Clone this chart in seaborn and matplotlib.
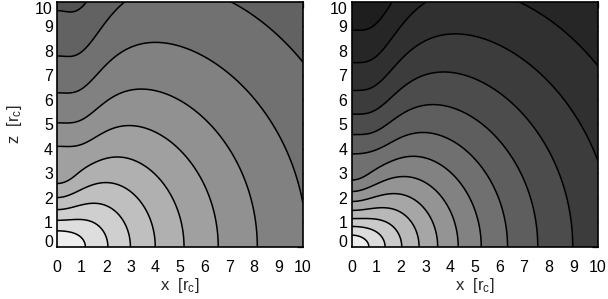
import numpy as np
import matplotlib
matplotlib.use("Agg")
import matplotlib.pyplot as plt
import seaborn as sns

# axis range and ticks, in units of r_c
x_range = [0, 10]
z_range = [0, 10]
ticks = [0, 1, 2, 3, 4, 5, 6, 7, 8, 9, 10]

# model of the two panels:
#   phi = 0.5*ln(1+r^2) - A*R^2/(R^2+R0^2+c*z^2) - E*exp(-R^2/w^2)*ramp(z)
left_model = dict(A=0.70, R0sq=2.5, c=0.007, E=0.21, w=0.9, z1=2.65, z2=4.1)
right_model = dict(A=0.68, R0sq=3.0, c=0.007, E=0.16, w=0.9, z1=2.65, z2=4.1)

# contour levels (equally spaced in log density)
left_levels = [0.18, 0.39, 0.60, 0.81, 1.02, 1.23, 1.43, 1.64, 1.85, 2.06]
right_levels = [0.105, 0.265, 0.425, 0.585, 0.745, 0.905, 1.065, 1.225,
                1.385, 1.545, 1.705, 1.865, 2.025, 2.185]

# fill shade of each band, innermost first (0-255)
left_grays = [238, 222, 207, 191, 176, 160, 145, 129, 113, 98, 82]
right_grays = [238, 220, 202, 184, 166, 148, 130, 112, 94, 76, 60, 48,
               38, 30, 24]


def potential(R, z, A, R0sq, c, E, w, z1, z2):
    t = np.clip((z - z1) / (z2 - z1), 0, 1)
    ramp = 3 * t**2 - 2 * t**3
    return (0.5 * np.log(1 + R**2 + z**2)
            - A * R**2 / (R**2 + R0sq + c * z**2)
            - E * np.exp(-R**2 / w**2) * ramp)


sns.set_theme(style="white")
plt.rcParams['font.family'] = ['Liberation Sans', 'DejaVu Sans']
plt.rcParams['mathtext.fontset'] = 'custom'
plt.rcParams['mathtext.rm'] = 'Liberation Sans'
plt.rcParams['mathtext.it'] = 'Liberation Sans'

fig = plt.figure(figsize=(6.08, 2.99), dpi=100)
ax_l = fig.add_axes([57 / 608, 52 / 299, 246 / 608, 245.5 / 299])
ax_r = fig.add_axes([351.5 / 608, 52 / 299, 246.5 / 608, 245.5 / 299])

xs = np.linspace(x_range[0], x_range[1], 601)
zs = np.linspace(z_range[0], z_range[1], 601)
X, Z = np.meshgrid(xs, zs)

panels = [(ax_l, left_model, left_levels, left_grays),
          (ax_r, right_model, right_levels, right_grays)]

for ax, model, levels, grays in panels:
    phi = potential(X, Z, **model)
    bounds = [phi.min() - 1] + levels + [phi.max() + 1]
    shades = [(g / 255, g / 255, g / 255) for g in grays]
    ax.contourf(X, Z, phi, levels=bounds, colors=shades)
    ax.contour(X, Z, phi, levels=levels, colors='black', linewidths=1.1)
    ax.set_xlim(x_range)
    ax.set_ylim(z_range)
    ax.set_xticks(ticks)
    ax.set_yticks(ticks)
    ax.tick_params(direction='in', top=True, right=True, length=4.5,
                   width=0.9, labelsize=11.5, colors='black')
    ax.tick_params(axis='x', pad=9)
    ax.tick_params(axis='y', pad=3)
    ylabels = ax.get_yticklabels()
    ylabels[0].set_verticalalignment('baseline')
    ylabels[-1].set_verticalalignment('top')
    for s in ax.spines.values():
        s.set_color('black')
        s.set_linewidth(1.2)
    ax.set_xlabel(r'x  [r$_{\rm c}$]', fontsize=12, labelpad=1)

ax_l.set_ylabel(r'z  [r$_{\rm c}$]', fontsize=12, labelpad=8)

fig.savefig('out.png', dpi=100, facecolor='white')
